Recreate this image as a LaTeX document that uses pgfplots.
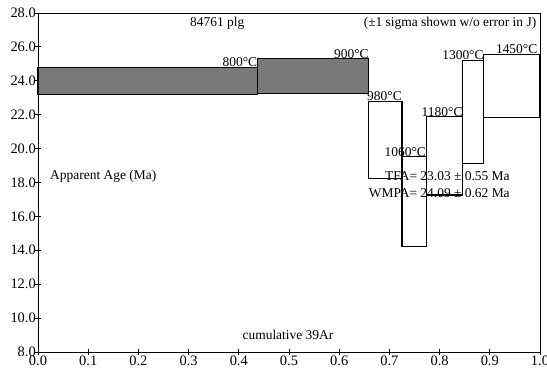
\documentclass[border=0pt]{standalone}
\usepackage{pgfplots}
\pgfplotsset{compat=1.18}
\usepackage{fontspec}
\setmainfont{Liberation Serif}
\begin{document}
\begin{tikzpicture}
\useasboundingbox (-38bp,-18bp) rectangle (509bp,352bp);
\begin{axis}[
  at={(0,0)}, anchor=south west,
  width=502bp, height=339bp, scale only axis,
  xmin=0, xmax=1, ymin=8, ymax=28,
  xtick={0,0.1,0.2,0.3,0.4,0.5,0.6,0.7,0.8,0.9,1.0},
  ytick={8,10,12,14,16,18,20,22,24,26,28},
  tick pos=left, tick align=center, major tick length=6bp,
  axis line style={line width=0.9pt},
  every tick/.style={black, line width=0.9pt},
  /pgf/number format/assume math mode=true,
  /pgf/number format/.cd, fixed, fixed zerofill, precision=1, /pgfplots/.cd,
  ticklabel style={font=\fontsize{14.5}{16}\selectfont, inner sep=1pt},
  xticklabel style={yshift=0bp},
  yticklabel style={xshift=2bp},
  clip=false,
]
\addplot[fill=gray!95!black, draw=black, line width=1.1pt] coordinates {(0,23.2) (0.437,23.2) (0.437,24.81) (0,24.81)} -- cycle;
\addplot[fill=gray!95!black, draw=black, line width=1.1pt] coordinates {(0.437,23.26) (0.659,23.26) (0.659,25.29) (0.437,25.29)} -- cycle;
\addplot[fill=white, draw=black, line width=1.1pt] coordinates {(0.659,18.25) (0.725,18.25) (0.725,22.77) (0.659,22.77)} -- cycle;
\addplot[fill=none, draw=black, line width=1.1pt] coordinates {(0.725,14.21) (0.773,14.21) (0.773,19.52) (0.725,19.52)} -- cycle;
\addplot[fill=none, draw=black, line width=1.1pt] coordinates {(0.773,17.26) (0.846,17.26) (0.846,21.88) (0.773,21.88)} -- cycle;
\addplot[fill=none, draw=black, line width=1.1pt] coordinates {(0.846,19.13) (0.888,19.13) (0.888,25.19) (0.846,25.19)} -- cycle;
\addplot[fill=none, draw=black, line width=1.1pt] coordinates {(0.888,21.85) (1.0,21.85) (1.0,25.56) (0.888,25.56)} -- cycle;

\begin{scope}[every node/.style={font=\fontsize{13.5}{15}\selectfont, inner sep=0pt}]
\node[anchor=base east] at (axis cs:0.437,24.85) {800°C};
\node[anchor=base east] at (axis cs:0.659,25.33) {900°C};
\node[anchor=base east] at (axis cs:0.725,22.81) {980°C};
\node[anchor=base east] at (axis cs:0.773,19.56) {1060°C};
\node[anchor=base east] at (axis cs:0.846,21.92) {1180°C};
\node[anchor=base east] at (axis cs:0.888,25.23) {1300°C};
\node[anchor=base east] at (axis cs:0.995,25.60) {1450°C};
\node[anchor=center] at (axis cs:0.357,27.4) {84761 plg};
\node[anchor=east] at (axis cs:0.993,27.4) {(±1 sigma shown w/o error in J)};
\node[anchor=west] at (axis cs:0.024,18.34) {Apparent Age (Ma)};
\node[anchor=east] at (axis cs:0.940,18.38) {TFA= 23.03 ± 0.55 Ma};
\node[anchor=east] at (axis cs:0.940,17.40) {WMPA= 24.09 ± 0.62 Ma};
\node[anchor=center] at (axis cs:0.498,9.0) {cumulative 39Ar};
\end{scope}
\end{axis}
\end{tikzpicture}
\end{document}
